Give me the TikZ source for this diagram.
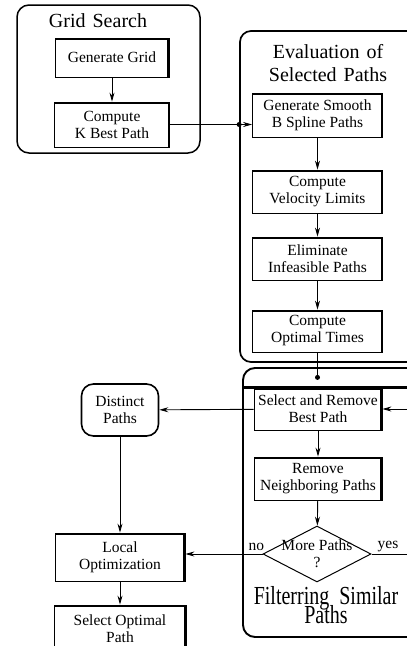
\documentclass[tikz,border=0pt]{standalone}
\usepackage{fontspec}
\setmainfont{Liberation Serif}
\usepackage{graphicx}
\usetikzlibrary{arrows.meta,positioning,shapes.geometric}

\begin{document}
\begin{tikzpicture}[
  x=1pt, y=-1pt,
  >={Stealth[length=9pt,width=5pt]},
  stepbox/.style={draw, line width=0.8pt, fill=white,
               minimum width=130pt, minimum height=43pt,
               align=center, inner sep=1pt,
               font=\fontsize{15.5}{17}\selectfont,
               path picture={\draw[line width=4pt]
                 (path picture bounding box.north west) --
                 (path picture bounding box.north east) --
                 (path picture bounding box.south east);}},
  roundbox/.style={draw, line width=1.6pt, rounded corners=12pt, fill=white,
               minimum width=77pt, minimum height=52pt,
               align=center, inner sep=1pt,
               font=\fontsize{15.5}{17}\selectfont},
  decision/.style={draw, diamond, aspect=1.93, line width=1pt, fill=white,
               inner xsep=0pt, inner ysep=-5pt,
               minimum width=108pt, minimum height=56pt,
               align=center, font=\fontsize{15.5}{17}\selectfont},
  grp/.style={draw, line width=1.5pt, rounded corners=12pt},
  ttl/.style={font=\fontsize{20}{23}\selectfont, align=center, inner sep=0pt},
  lbl/.style={font=\fontsize{15.5}{17}\selectfont, inner sep=1pt},
  arr/.style={->, line width=0.9pt},
  wire/.style={line width=0.9pt},
]
\useasboundingbox (0,0) rectangle (407,646);
\clip (0,0) rectangle (407,646);

%% ─── Groups ───────────────────────────────────────────────────────────────
\node[grp, minimum width=183pt, minimum height=148pt] (gridgrp) at (108.5,79) {};
\node[grp, line width=1.7pt, rounded corners=11pt,
      minimum width=190pt, minimum height=331pt] (evalgrp) at (335,196.5) {};
\node[grp, line width=1.9pt, minimum width=187pt, minimum height=269pt]
  (filtgrp) at (336.5,502.5) {};

\node[ttl] (gridttl) at (98,21) {Grid\hspace{0.35em}Search};
\node[ttl] (evalttl) at (328,63) {Evaluation\hspace{0.35em}of\\Selected\hspace{0.35em}Paths};
\node (filtttl) at (326,605) {\scalebox{1}[1.3]{\parbox{160pt}{\centering
  \lineskiplimit=-30pt\fontsize{20}{15}\selectfont
  Filterring\hspace{0.5em}Similar\\Paths}}};

%% ─── Grid search ──────────────────────────────────────────────────────────
\node[stepbox, minimum width=114pt, minimum height=39pt] (gengrid) at (112,57.5) {Generate Grid};
\node[stepbox, minimum width=115pt, minimum height=45pt] (kbest) at (112,124.5) {Compute\\K Best Path};
\draw[arr] (gengrid) -- (kbest);

%% ─── Evaluation of selected paths ─────────────────────────────────────────
\node[stepbox, minimum height=44pt] (smooth)   at (317.5,115)   {Generate Smooth\\B Spline Paths};
\node[stepbox]                      (velocity) at (317.5,191.5) {Compute\\Velocity Limits};
\node[stepbox]                      (elim)     at (317.5,258.5) {Eliminate\\Infeasible Paths};
\node[stepbox, minimum height=42pt] (opttimes) at (317.5,331)   {Compute\\Optimal Times};

\draw[arr] (kbest.east) -- (kbest.east -| smooth.west);
\fill (kbest.east -| evalgrp.west) circle (2.5pt);
\draw[arr] (smooth)   -- (velocity);
\draw[arr] (velocity) -- (elim);
\draw[arr] (elim)     -- (opttimes);

%% ─── Filtering similar paths ──────────────────────────────────────────────
\node[stepbox, minimum width=128pt, minimum height=42pt] (select) at (318,409) {Select and Remove\\Best Path};
\node[stepbox, minimum width=128pt] (remove) at (318,478.5) {Remove\\Neighboring Paths};
\node[decision] (dia) at (317,554) {More Paths\\?};

\coordinate[below=25pt of opttimes.south] (entry);
\draw[wire] (opttimes) -- (entry);
\fill (entry) circle (2.5pt);
\draw[line width=2.5pt] (select.north -| filtgrp.west) -- (select.north -| filtgrp.east);

\draw[arr] (select) -- (remove);
\draw[arr] (remove) -- (dia);
\draw[arr] (dia.east) -- ++(60,0) |- (select.east);
\node[lbl, above right=1pt and 5pt of dia.east] (yes) {yes};

%% ─── Distinct paths and local optimization ────────────────────────────────
\node[roundbox] (distinct) at (120,410) {Distinct\\Paths};
\node[stepbox, minimum height=48pt] (localopt) at (120,557) {Local\\Optimization};
\node[stepbox, minimum width=132pt, minimum height=48pt] (selopt) at (120,629) {Select Optimal\\Path};

\draw[arr] (select) -- (distinct);
\draw[arr] (distinct) -- (localopt);
\draw[arr] (dia.west) -- (dia.west -| localopt.east)
  node[lbl, pos=0.08, above=2pt] (no) {no};
\draw[arr] (localopt) -- (selopt);

\end{tikzpicture}
\end{document}
